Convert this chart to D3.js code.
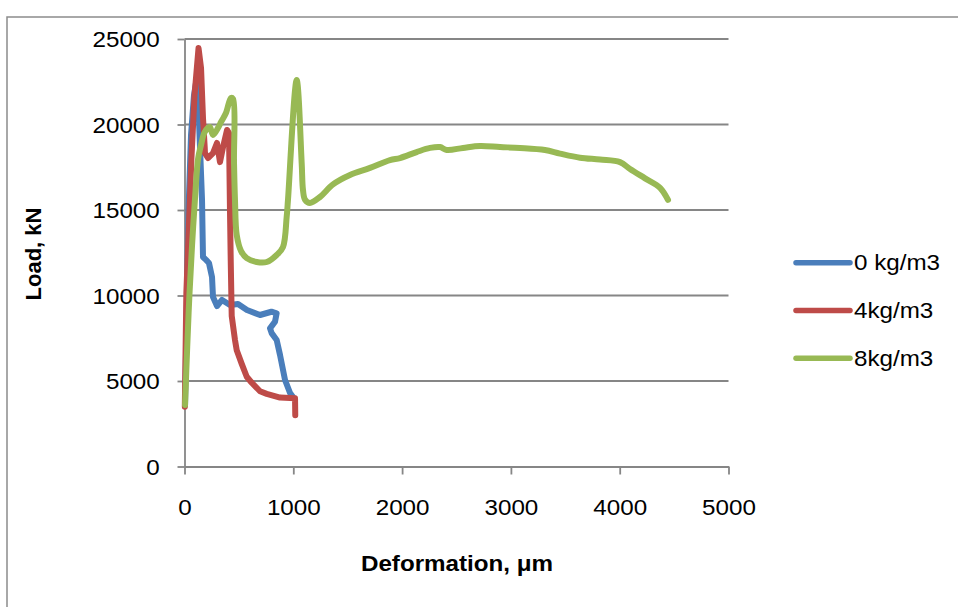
<!DOCTYPE html>
<html>
<head>
<meta charset="utf-8">
<script src="https://cdn.jsdelivr.net/npm/d3@7"></script>
<style>
body { margin:0; background:#fff; }
text { font-family:"Liberation Sans", Arial, sans-serif; fill:#000; }
</style>
</head>
<body>
<svg id="chart"></svg>
<script>
var seriesNames = ["0 kg/m3", "4kg/m3", "8kg/m3"]
var seriesColors = ["#4A7EBB", "#BE4B48", "#98B954"]
var xTicks = [0, 1000, 2000, 3000, 4000, 5000]
var yTicks = [0, 5000, 10000, 15000, 20000, 25000]

// [deformation um, load kN]
var blueData = [[5,3600],[18,8000],[37,15000],[60,19400],[87,21700],[110,22600],[133,20250],
    [161,15600],[170,12250],[198,12080],[225,11900],[253,11080],[262,9910],[299,9385],
    [345,9740],[418,9440],[492,9500],[574,9150],[694,8860],[799,9050],[847,8960],[832,8470],
    [786,8080],[801,7800],[847,7400],[878,6520],[924,5060],[970,4300],[997,4060]]

var redData = [[3,3500],[17,10150],[63,17920],[92,21700],[129,24470],[152,23300],[170,20380],
    [186,18630],[188,18330],[216,18040],[262,18330],[299,18920],[326,17800],[354,18680],
    [391,19680],[409,19500],[418,15000],[425,12000],[434,8800],[464,7400],[480,6800],
    [526,6000],[572,5250],[618,4900],[694,4400],[756,4250],[878,4030],[1016,3990],[1018,3000]]

var greenData = [[5,3600],[25,7000],[45,10000],[70,13000],[100,16000],[125,18000],[152,18800],
    [186,19560],[232,19850],[262,19390],[308,19800],[336,20150],[381,20670],[427,21550],
    [446,21500],[455,17800],[464,15580],[480,13540],[520,12600],[572,12190],[664,11960],
    [756,11960],[847,12370],[905,12830],[939,14590],[951,15580],[1031,22600],[1077,17750],
    [1089,16170],[1108,15600],[1153,15410],[1245,15760],[1365,16500],[1521,17050],[1705,17460],
    [1889,17920],[1981,18040],[2134,18390],[2257,18630],[2348,18680],[2410,18510],[2560,18630],
    [2716,18740],[2900,18680],[3084,18630],[3313,18510],[3451,18300],[3635,18060],[3819,17950],
    [4003,17800],[4095,17400],[4233,16850],[4371,16300],[4444,15590]]

var screen = {width:958, height:607}
var margins = {top:39, left:184.5, right:229.5, bottom:140.5}
var graph = {
    width: screen.width - margins.left - margins.right,
    height: screen.height - margins.top - margins.bottom
}
var stretch = "scale(1.1,1)"
var gridColor = "#868686"

var svg = d3.select("#chart")
    .attr("width", screen.width)
    .attr("height", screen.height)

// outer chart border
svg.append("rect")
    .attr("x", 7).attr("y", 17)
    .attr("width", 1000).attr("height", 700)
    .attr("fill", "none")
    .attr("stroke", "#8c8c8c")
    .attr("stroke-width", 1.5)

var xScale = d3.scaleLinear().domain([0, 5000]).range([0, graph.width])
var yScale = d3.scaleLinear().domain([0, 25000]).range([graph.height, 0])

var g = svg.append("g")
    .attr("transform", "translate(" + margins.left + "," + margins.top + ")")

// horizontal gridlines
g.append("g")
    .selectAll("line")
    .data(yTicks.slice(1))
    .enter()
    .append("line")
    .attr("x1", 0)
    .attr("x2", graph.width)
    .attr("y1", function(d){ return yScale(d) })
    .attr("y2", function(d){ return yScale(d) })
    .attr("stroke", gridColor)
    .attr("stroke-width", 1.8)

var xAxis = d3.axisBottom(xScale).tickValues(xTicks).tickSize(8).tickSizeOuter(0)
    .tickFormat(d3.format("d"))
var yAxis = d3.axisLeft(yScale).tickValues(yTicks).tickSize(7).tickSizeOuter(0)
    .tickFormat(d3.format("d"))

var gx = g.append("g")
    .attr("transform", "translate(0," + graph.height + ")")
    .call(xAxis)
var gy = g.append("g").call(yAxis)

;[gx, gy].forEach(function(ax){
    ax.select(".domain").attr("stroke", gridColor).attr("stroke-width", 1.8)
    ax.selectAll(".tick line").attr("stroke", gridColor).attr("stroke-width", 1.8)
    ax.selectAll(".tick text")
        .style("font-size", "22px")
        .attr("fill", "#000")
})
gx.selectAll(".tick text").attr("y", 40.5).attr("dy", "0.35em").attr("transform", stretch)
gy.selectAll(".tick text").attr("x", -22.5).attr("dy", "0.35em").attr("transform", stretch)

// series lines: straight segments for the first two, smoothed green
var straight = d3.line()
    .x(function(d){ return xScale(d[0]) })
    .y(function(d){ return yScale(d[1]) })
var smooth = d3.line()
    .x(function(d){ return xScale(d[0]) })
    .y(function(d){ return yScale(d[1]) })
    .curve(d3.curveCatmullRom.alpha(0.5))

var allData = [blueData, redData, greenData]
g.append("g")
    .selectAll("path")
    .data(allData)
    .enter()
    .append("path")
    .attr("d", function(d, i){ return i == 2 ? smooth(d) : straight(d) })
    .attr("fill", "none")
    .attr("stroke", function(d, i){ return seriesColors[i] })
    .attr("stroke-width", 6)
    .attr("stroke-linejoin", "round")
    .attr("stroke-linecap", "round")

// axis titles
svg.append("text")
    .text("Deformation, \u03bcm")
    .attr("text-anchor", "middle")
    .attr("font-weight", "bold")
    .style("font-size", "22px")
    .attr("transform", "translate(457,571) " + stretch)

svg.append("text")
    .text("Load, kN")
    .attr("text-anchor", "middle")
    .attr("font-weight", "bold")
    .style("font-size", "22px")
    .attr("transform", "translate(41,254) rotate(270)")

// legend
var legend = svg.append("g")
    .selectAll("g")
    .data(seriesNames)
    .enter()
    .append("g")
    .attr("transform", function(d, i){ return "translate(796," + (262.7 + i * 47.8) + ")" })

legend.append("line")
    .attr("x1", 0).attr("x2", 54)
    .attr("stroke", function(d, i){ return seriesColors[i] })
    .attr("stroke-width", 5.5)
    .attr("stroke-linecap", "round")

legend.append("text")
    .text(function(d){ return d })
    .attr("dy", "0.35em")
    .style("font-size", "22px")
    .attr("transform", "translate(58,0) " + stretch)
</script>
</body>
</html>
